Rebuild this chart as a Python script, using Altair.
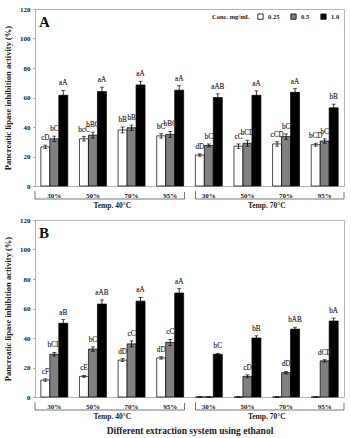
import altair as alt
import pandas as pd

SERIF = "Liberation Serif"

conc_levels = ["0.25", "0.5", "1.0"]
temps = ["40", "70"]
ethanol = ["30%", "50%", "70%", "95%"]
temp_titles = ["Temp. 40\u00b0C", "Temp. 70\u00b0C"]

# Panel A: mean inhibition (%) per temperature, ethanol level and concentration
a_mean = [
    [26.5, 32.0, 61.5], [32.0, 34.5, 64.0], [38.0, 39.5, 68.5], [34.0, 35.0, 65.0],
    [21.0, 27.5, 60.0], [27.0, 29.0, 61.5], [28.5, 33.5, 63.5], [28.0, 30.5, 53.0],
]
a_err = [
    [1.2, 1.8, 3.3], [1.5, 2.0, 3.0], [2.0, 1.8, 2.5], [1.5, 2.0, 3.0],
    [0.8, 1.0, 2.5], [1.5, 2.0, 3.0], [1.5, 1.8, 2.5], [1.0, 1.5, 2.5],
]
a_tags = [
    ["cD", "bC", "aA"], ["bcC", "bBC", "aA"], ["bB", "bB", "aA"], ["bC", "bBC", "aA"],
    ["dD", "bC", "aAB"], ["cC", "bCD", "aA"], ["cCD", "bC", "aA"], ["bCD", "bC", "bB"],
]

# Panel B
b_mean = [
    [11.5, 29.0, 50.0], [14.0, 32.5, 63.0], [25.0, 36.0, 65.0], [26.5, 37.0, 70.5],
    [0.0, 0.0, 29.0], [0.0, 14.0, 40.0], [0.0, 16.5, 46.0], [0.0, 24.5, 51.5],
]
b_err = [
    [0.8, 1.2, 2.5], [0.6, 1.5, 2.8], [1.0, 2.0, 2.5], [0.8, 2.0, 3.0],
    [0.0, 0.0, 0.6], [0.0, 1.0, 1.5], [0.0, 0.8, 1.3], [0.0, 0.8, 2.0],
]
b_tags = [
    ["cF", "bCD", "aB"], ["cE", "bC", "aAB"], ["dD", "cC", "aA"], ["dD", "cC", "aA"],
    ["", "", "bC"], ["", "cD", "bB"], ["", "dD", "bAB"], ["", "dCD", "bA"],
]

cats = [f"{t}|{e}" for t in temps for e in ethanol]

W, H = 309, 177


def frame(means, errs, tags):
    rows = []
    for i, cat in enumerate(cats):
        for j, c in enumerate(conc_levels):
            m, e = means[i][j], errs[i][j]
            rows.append({"cat": cat, "conc": c, "mean": m,
                         "lo": m - e, "hi": m + e, "tag": tags[i][j]})
    return pd.DataFrame(rows)


def panel(df, letter, legend, xtitle):
    x_axis = alt.Axis(
        labelExpr="split(datum.label, '|')[1]", labelAngle=0, ticks=False,
        domain=False, labelPadding=5, labelFont=SERIF, labelFontWeight="bold",
        labelFontSize=7, labelColor="#222",
        title=xtitle if xtitle else None, titleFont=SERIF, titleFontWeight="bold",
        titleFontSize=9.5, titlePadding=16, titleColor="#222",
    )
    x = alt.X("cat:N", sort=cats, axis=x_axis,
              scale=alt.Scale(paddingInner=0, paddingOuter=0))
    xo = alt.XOffset("conc:N", sort=conc_levels,
                     scale=alt.Scale(paddingInner=0, paddingOuter=0.65))
    y_axis = alt.Axis(
        values=list(range(0, 121, 20)), domain=False, grid=False, tickSize=2,
        tickColor="#999", labelPadding=3, labelFont=SERIF, labelFontWeight="bold",
        labelFontSize=7, labelColor="#222",
        title="Pancreatic lipase inhibition activity (%)", titleFont=SERIF,
        titleFontWeight="bold", titleFontSize=8.5, titlePadding=7, titleColor="#222",
    )
    yscale = alt.Scale(domain=[0, 120], nice=False)

    base = alt.Chart(df)
    fill = alt.Fill(
        "conc:N", sort=conc_levels,
        scale=alt.Scale(domain=conc_levels, range=["white", "#808080", "black"]),
        legend=alt.Legend(
            title="Conc. mg/mL", orient="top-right", direction="horizontal",
            titleOrient="left", titleFont=SERIF, titleFontWeight="bold",
            titleFontSize=6.5, titleColor="#222", labelFont=SERIF,
            labelFontWeight="bold", labelFontSize=6.5, labelColor="#222",
            symbolType="square", symbolSize=28, symbolStrokeColor="black",
            symbolStrokeWidth=0.8, offset=4, columnPadding=9, labelOffset=4,
            titlePadding=7, padding=0,
        ) if legend else None,
    )
    bars = base.mark_bar(stroke="black", strokeWidth=0.7).encode(
        x=x, xOffset=xo, y=alt.Y("mean:Q", scale=yscale, axis=y_axis), fill=fill)
    whisk = base.mark_rule(color="black", strokeWidth=0.8).encode(
        x=x, xOffset=xo, y=alt.Y("lo:Q", scale=yscale, axis=y_axis), y2="hi:Q")
    cap_hi = base.mark_tick(color="black", size=4, thickness=0.9).encode(
        x=x, xOffset=xo, y=alt.Y("hi:Q", scale=yscale, axis=y_axis))
    cap_lo = base.mark_tick(color="black", size=4, thickness=0.9).encode(
        x=x, xOffset=xo, y=alt.Y("lo:Q", scale=yscale, axis=y_axis))
    # significance letters; a hairline stroke keeps the small glyphs neutral grey
    tags = base.mark_text(font=SERIF, fontSize=7.2, baseline="bottom", dy=-3,
                          fill="#222", stroke="#333", strokeWidth=0.15).encode(
        x=x, xOffset=xo, y=alt.Y("hi:Q", scale=yscale, axis=y_axis), text="tag:N")

    layers = [bars, whisk, cap_hi, cap_lo, tags]

    # temperature brackets under the ethanol labels
    for k, t in enumerate(temps):
        first, last, mid = f"{t}|30%", f"{t}|95%", f"{t}|50%"
        b = alt.Chart(pd.DataFrame({"first": [first], "last": [last],
                                    "mid": [mid], "label": [temp_titles[k]]}))
        lo_off = 0 if k == 0 else 6
        hi_off = -5 if k == 0 else 0
        line_kw = dict(color="#555", strokeWidth=0.8)
        layers.append(b.mark_rule(xOffset=lo_off, x2Offset=hi_off, **line_kw).encode(
            x=alt.X("first:N", sort=cats, bandPosition=0, axis=x_axis,
                    scale=alt.Scale(paddingInner=0, paddingOuter=0)),
            x2=alt.X2("last:N", bandPosition=1),
            y=alt.value(H + 13)))
        layers.append(b.mark_rule(xOffset=lo_off, **line_kw).encode(
            x=alt.X("first:N", sort=cats, bandPosition=0, axis=x_axis,
                    scale=alt.Scale(paddingInner=0, paddingOuter=0)),
            y=alt.value(H + 5), y2=alt.value(H + 13)))
        layers.append(b.mark_rule(xOffset=hi_off, **line_kw).encode(
            x=alt.X("last:N", sort=cats, bandPosition=1, axis=x_axis,
                    scale=alt.Scale(paddingInner=0, paddingOuter=0)),
            y=alt.value(H + 6), y2=alt.value(H + 13)))
        layers.append(b.mark_text(font=SERIF, fontSize=7.5, fontWeight="bold").encode(
            x=alt.X("mid:N", sort=cats, bandPosition=1, axis=x_axis,
                    scale=alt.Scale(paddingInner=0, paddingOuter=0)),
            y=alt.value(H + 20), text="label:N", color=alt.value("#222")))

    # panel letter
    layers.append(alt.Chart(pd.DataFrame({"p": [letter]})).mark_text(
        font=SERIF, fontSize=15, fontWeight="bold", align="left", baseline="top").encode(
        x=alt.value(4), y=alt.value(6), text="p:N", color=alt.value("#111")))

    return alt.layer(*layers).properties(width=W, height=H)


panel_a = panel(frame(a_mean, a_err, a_tags), "A", True, None)
panel_b = panel(frame(b_mean, b_err, b_tags), "B", False,
                "Different extraction system using ethanol")

chart = alt.vconcat(panel_a, panel_b, spacing=5).resolve_scale(
    fill="independent"
).properties(
    padding={"left": 3, "top": 4, "right": 2, "bottom": 2},
    background="white",
).configure_view(
    stroke="#b5b5b5", strokeWidth=1
)

chart.save("out.html", embed_options={"renderer": "svg", "actions": False})
